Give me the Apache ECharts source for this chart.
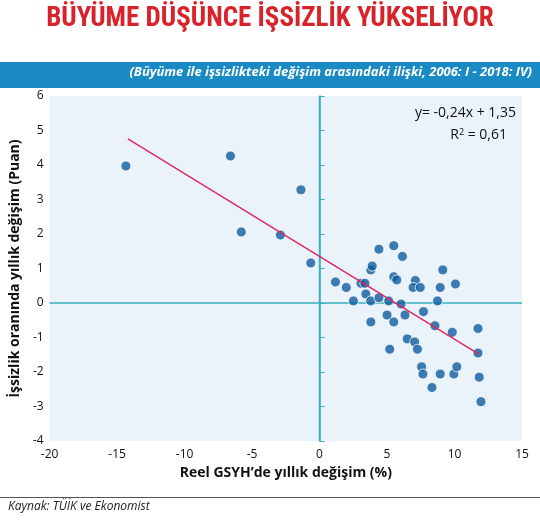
<!DOCTYPE html><html><head><meta charset="utf-8"><script src="https://cdn.jsdelivr.net/npm/echarts@6/dist/echarts.min.js"></script>
<style>body{margin:0;background:#fff}#c{width:540px;height:528px}</style></head><body><div id="c"></div><script>
const xVals=[-14.35,-6.6,-5.8,-2.9,-1.38,-0.65,1.18,1.98,2.51,3.07,3.36,3.43,3.79,3.8,3.9,4.4,4.4,5.5,6.14,5.5,5.72,5.12,6.04,3.8,5.0,5.5,6.33,5.2,6.5,7.05,7.25,7.1,6.93,7.46,7.7,7.56,7.66,8.33,8.55,8.94,8.74,8.94,9.13,10.07,9.83,9.95,10.17,11.74,11.74,11.83,11.96];
const yVals=[3.97,4.26,2.06,1.97,3.28,1.16,0.61,0.45,0.06,0.57,0.57,0.26,0.06,0.96,1.07,1.56,0.15,1.66,1.35,0.76,0.67,0.06,-0.03,-0.55,-0.35,-0.55,-0.35,-1.34,-1.04,-1.13,-1.34,0.65,0.45,0.45,-0.25,-1.85,-2.06,-2.45,-0.66,-2.06,0.06,0.45,0.96,0.55,-0.85,-2.06,-1.85,-0.74,-1.45,-2.15,-2.86];
const fitX=[-14.2,11.8];
const slope=-0.24, intercept=1.35;
const pts=xVals.map((x,i)=>[x,yVals[i]]);
const fit=fitX.map(x=>[x,slope*x+intercept]);
const teal='#3aaebf';
const ch=echarts.init(document.getElementById('c'));
ch.setOption({
graphic:[
{type:'text',left:'center',top:6,style:{text:'BÜYÜME DÜŞÜNCE İŞSİZLİK YÜKSELİYOR',fill:'#d8232a',font:'bold 27px "Liberation Sans Narrow", "Roboto Condensed", sans-serif'}},
{type:'rect',shape:{x:0,y:62,width:540,height:26},style:{fill:'#1a8ac4'}},
{type:'text',right:8,top:66,style:{text:'(Büyüme ile işsizlikteki değişim arasındaki ilişki, 2006: I - 2018: IV)',fill:'#fff',font:'italic bold 13px "Open Sans", sans-serif'}},
{type:'rect',shape:{x:0,y:497,width:540,height:1},style:{fill:'#555'}},
{type:'text',left:8,top:501,style:{text:'Kaynak: TÜİK ve Ekonomist',fill:'#222',font:'italic 12px "Open Sans", sans-serif'}},
{type:'text',right:24,top:106,style:{text:'y= -0,24x + 1,35',fill:'#111',font:'14px "Open Sans", sans-serif'}},
{type:'text',right:33,top:128,style:{rich:{a:{fill:'#111',font:'14px "Open Sans", sans-serif'},s:{fill:'#111',font:'9px "Open Sans", sans-serif',verticalAlign:'top',padding:[0,0,6,0]}},text:'{a|R}{s|2}{a| = 0,61}'}}
],
grid:{left:40,right:18,top:96,bottom:87,backgroundColor:'#eaf2fa',show:true,borderWidth:0},
xAxis:{type:'value',min:-20,max:15,interval:5,name:'Reel GSYH’de yıllık değişim (%)',nameLocation:'middle',nameGap:24,
nameTextStyle:{fontSize:14,fontWeight:'bold',color:'#111',fontFamily:'Open Sans'},
axisLine:{show:false},axisTick:{show:false},splitLine:{show:false},axisLabel:{color:'#111',fontSize:12,fontFamily:'Open Sans'}},
yAxis:{type:'value',min:-4,max:6,interval:1,name:'İşsizlik oranında yıllık değişim (Puan)',nameLocation:'middle',nameGap:22,
nameTextStyle:{fontSize:14,fontWeight:'bold',color:'#111',fontFamily:'Open Sans'},
axisLine:{show:true,lineStyle:{color:teal,width:1.5}},axisTick:{show:true,inside:true,length:5,lineStyle:{color:teal}},splitLine:{show:false},axisLabel:{color:'#111',fontSize:12,fontFamily:'Open Sans',margin:6}},
series:[
{type:'line',data:[[0,-4],[0,6]],symbol:'none',lineStyle:{color:teal,width:1.5},silent:true,z:1},
{type:'line',data:[[-20,0],[15,0]],symbol:'none',lineStyle:{color:teal,width:1.5},silent:true,z:1},
{type:'scatter',data:pts,symbolSize:10,itemStyle:{color:'#0f5c9f',borderColor:'#fff',borderWidth:1},z:3},
{type:'line',data:fit,symbol:'none',lineStyle:{color:'#e0245e',width:1.3},z:4}
]});
</script></body></html>
